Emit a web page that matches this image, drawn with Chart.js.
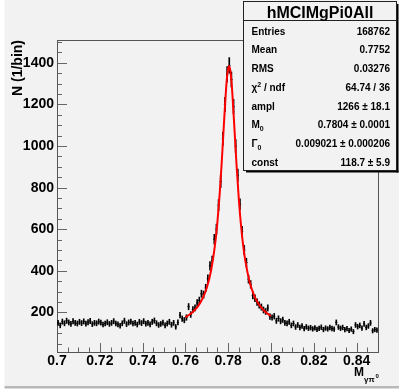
<!DOCTYPE html>
<html>
<head>
<meta charset="utf-8">
<title>hMCIMgPi0All</title>
<script src="https://cdn.jsdelivr.net/npm/chart.js@4.4.1/dist/chart.umd.min.js"></script>
<style>
	html, body {
		margin: 0;
		padding: 0;
		background: #ffffff;
	}
</style>
</head>
<body>
<canvas id="myChart" width="399" height="392"></canvas>
<script>
	// hMCIMgPi0All : 150 bins of 0.001 between 0.7 and 0.85
	const binStart = 0.7;
	const binWidth = 0.001;
	const counts = [
		150, 138, 156, 148, 160, 152, 145, 158, 150, 147,
		155, 149, 157, 146, 153, 159, 144, 150, 148, 156,
		151, 142, 147, 153, 145, 150, 158, 147, 143, 136,
		148, 160, 144, 152, 156, 147, 150, 142, 155, 149,
		158, 146, 150, 143, 155, 161, 148, 140, 145, 151,
		138, 147, 155, 141, 150, 131, 152, 187, 170, 163,
		176, 228, 190, 214, 222, 246, 258, 290, 286, 318,
		362, 424, 450, 552, 600, 716, 830, 1035, 1200, 1345,
		1388, 1320, 1190, 1000, 860, 720, 590, 500, 440, 360,
		335, 282, 268, 250, 236, 226, 212, 205, 222, 180,
		176, 182, 160, 171, 158, 165, 150, 148, 155, 138,
		147, 130, 140, 128, 135, 122, 131, 124, 127, 121,
		126, 119, 124, 129, 118, 125, 121, 128, 123, 120,
		152, 130, 124, 128, 118, 122, 113, 120, 108, 140,
		132, 138, 125, 145, 128, 135, 150, 112, 118, 115
	];

	// red fit line (0.76 - 0.80)
	const fitX = [0.760, 0.762, 0.764, 0.766, 0.768, 0.770, 0.772, 0.774, 0.775, 0.776,
		0.777, 0.778, 0.779, 0.7795, 0.780, 0.7804, 0.781, 0.7815, 0.782, 0.783,
		0.784, 0.785, 0.786, 0.787, 0.788, 0.790, 0.792, 0.794, 0.796, 0.798, 0.800];
	const fitY = [178, 190, 208, 232, 267, 319, 402, 539, 639, 768,
		926, 1106, 1274, 1336, 1375, 1385, 1363, 1314, 1243, 1069,
		892, 740, 617, 522, 449, 348, 285, 244, 217, 197, 183];

	const xTicks = [0.7, 0.72, 0.74, 0.76, 0.78, 0.8, 0.82, 0.84];
	const yTicks = [200, 400, 600, 800, 1000, 1200, 1400];

	// stats box ; parts: [text, shift] shift 0 normal, -1 superscript, 1 subscript
	const statTitle = 'hMCIMgPi0All';
	const statNames = [
		[['Entries', 0]],
		[['Mean', 0]],
		[['RMS', 0]],
		[['\u03c7', 0], ['2', -1], [' / ndf', 0]],
		[['ampl', 0]],
		[['M', 0], ['0', 1]],
		[['\u0393', 0], ['0', 1]],
		[['const', 0]]
	];
	const statValues = ['168762', '0.7752', '0.03276', '64.74 / 36', '1266 \u00b1 18.1',
		'0.7804 \u00b1 0.0001', '0.009021 \u00b1 0.000206', '118.7 \u00b1 5.9'];

	const FONT = "'Liberation Sans', Arial, Helvetica, sans-serif";

	const centres = counts.map((n, i) => ({ x: binStart + (i + 0.5) * binWidth, y: n }));
	const errors = counts.map((n, i) => ({ x: binStart + (i + 0.5) * binWidth, y: [n - Math.sqrt(n), n + Math.sqrt(n)] }));
	const fitPoints = fitX.map((x, i) => ({ x: x, y: fitY[i] }));

	function drawParts(ctx, parts, x, y, size) {
		for (const p of parts) {
			if (p[1] === 0) {
				ctx.font = 'bold ' + size + 'px ' + FONT;
				ctx.fillText(p[0], x, y);
			} else {
				ctx.font = 'bold ' + Math.round(size * 0.7) + 'px ' + FONT;
				ctx.fillText(p[0], x, y + (p[1] < 0 ? -4 : 3));
			}
			x += ctx.measureText(p[0]).width;
		}
	}

	const rootPad = {
		id: 'rootPad',
		beforeDraw(chart) {
			const ctx = chart.ctx;
			ctx.save();
			ctx.fillStyle = '#ffffff';
			ctx.fillRect(0, 0, chart.width, chart.height);
			ctx.fillStyle = '#f2f2f2';
			ctx.fillRect(4.5, 0, chart.width - 4.5, 386);
			ctx.fillStyle = '#b8b8b8';
			ctx.fillRect(4.5, 386, chart.width - 4.5, 2.5);
			ctx.restore();
		},
		beforeDatasetsDraw(chart) {
			const ctx = chart.ctx;
			const a = chart.chartArea;
			const xs = chart.scales.x;
			const ys = chart.scales.y;
			ctx.save();
			ctx.strokeStyle = '#666';
			ctx.lineWidth = 1;
			ctx.beginPath();
			for (let k = 0; k <= 30; k++) {
				const px = Math.round(xs.getPixelForValue(0.7 + k * 0.005)) + 0.5;
				const len = k % 4 === 0 ? 9 : 4.5;
				ctx.moveTo(px, a.bottom);
				ctx.lineTo(px, a.bottom - len);
			}
			for (let v = 50; v <= 1500; v += 50) {
				const py = Math.round(ys.getPixelForValue(v)) + 0.5;
				const len = v % 200 === 0 ? 10 : 5;
				ctx.moveTo(a.left, py);
				ctx.lineTo(a.left + len, py);
			}
			ctx.stroke();
			ctx.strokeStyle = '#555';
			ctx.strokeRect(Math.round(a.left) + 0.5, Math.round(a.top) + 0.5,
				Math.round(a.right - a.left), Math.round(a.bottom - a.top));
			ctx.restore();
		},
		afterDraw(chart) {
			const ctx = chart.ctx;
			ctx.save();
			ctx.fillStyle = '#000';
			ctx.textBaseline = 'alphabetic';

			// x axis title M_{#gamma#pi^{0}}
			ctx.font = 'bold 12px ' + FONT;
			ctx.fillText('M', 354, 376);
			ctx.font = 'bold 8px ' + FONT;
			ctx.fillText('\u03b3\u03c0', 364, 381.5);
			ctx.font = 'bold 6px ' + FONT;
			ctx.fillText('0', 375.5, 377.5);

			// stats box
			ctx.fillStyle = '#000';
			ctx.fillRect(396.5, 4, 2, 168.5);
			ctx.fillRect(246, 170.5, 152.5, 2);
			ctx.fillStyle = '#f2f2f2';
			ctx.fillRect(243.5, 1.5, 153, 169);
			ctx.strokeStyle = '#222';
			ctx.lineWidth = 1;
			ctx.strokeRect(243.5, 1.5, 153, 169);
			ctx.beginPath();
			ctx.moveTo(243.5, 20.5);
			ctx.lineTo(396.5, 20.5);
			ctx.stroke();

			ctx.fillStyle = '#000';
			ctx.textAlign = 'center';
			ctx.font = 'bold 16px ' + FONT;
			ctx.fillText(statTitle, 320, 17.5);

			for (let i = 0; i < statNames.length; i++) {
				const by = 34.5 + i * 18.75;
				ctx.textAlign = 'left';
				drawParts(ctx, statNames[i], 251.5, by, 10);
				ctx.textAlign = 'right';
				ctx.font = 'bold 10px ' + FONT;
				ctx.fillText(statValues[i], 390, by);
			}
			ctx.restore();
		}
	};

	const config = {
		type: 'scatter',
		data: {
			datasets: [{
				type: 'line',
				label: 'fit',
				data: fitPoints,
				borderColor: '#ff0000',
				borderWidth: 2,
				pointRadius: 0,
				cubicInterpolationMode: 'monotone',
				fill: false
			}, {
				type: 'scatter',
				label: 'bins',
				data: centres,
				pointStyle: 'line',
				pointRadius: 1.1,
				borderColor: '#000',
				borderWidth: 1,
				pointHoverRadius: 0
			}, {
				type: 'bar',
				label: 'errors',
				data: errors,
				backgroundColor: '#000',
				borderWidth: 0,
				barThickness: 1,
				grouped: false
			}]
		},
		options: {
			responsive: false,
			animation: false,
			events: [],
			layout: { padding: { left: 0, right: 21, top: 40, bottom: 0 } },
			plugins: {
				legend: { display: false },
				tooltip: { enabled: false }
			},
			scales: {
				x: {
					type: 'linear',
					min: 0.7,
					max: 0.85,
					offset: false,
					grid: { display: false, offset: false, drawTicks: false },
					border: { display: false },
					afterBuildTicks: s => { s.ticks = xTicks.map(v => ({ value: v })); },
					afterFit: s => { s.height = 40; },
					ticks: {
						color: '#000',
						padding: 1,
						maxRotation: 0,
						autoSkip: false,
						font: { family: FONT, size: 14, weight: 'bold' },
						callback: v => String(+v.toFixed(2))
					}
				},
				y: {
					type: 'linear',
					min: 10,
					max: 1510,
					beginAtZero: false,
					grid: { display: false, drawTicks: false },
					border: { display: false },
					afterBuildTicks: s => { s.ticks = yTicks.map(v => ({ value: v })); },
					afterFit: s => { s.width = 57; },
					ticks: {
						color: '#000',
						padding: 3,
						autoSkip: false,
						font: { family: FONT, size: 14, weight: 'bold' },
						callback: v => String(v)
					},
					title: {
						display: true,
						text: 'N (1/bin)',
						align: 'end',
						color: '#000',
						padding: { top: 10, bottom: 0 },
						font: { family: FONT, size: 14, weight: 'bold' }
					}
				}
			}
		},
		plugins: [rootPad]
	};

	const myChart = new Chart(document.getElementById('myChart'), config);
</script>
</body>
</html>
